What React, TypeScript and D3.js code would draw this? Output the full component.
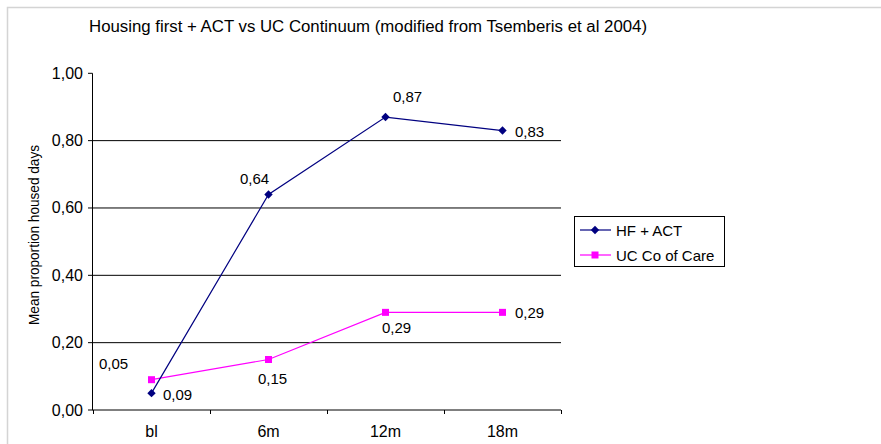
import React from "react";
import * as d3 from "d3";

const categories = ["bl", "6m", "12m", "18m"];
const hfAct = [0.05, 0.64, 0.87, 0.83];
const ucCare = [0.09, 0.15, 0.29, 0.29];
const yTicks = [0, 0.2, 0.4, 0.6, 0.8, 1.0];
const seriesNames = ["HF + ACT", "UC Co of Care"];
const title = "Housing first + ACT vs UC Continuum (modified from Tsemberis et al 2004)";
const yTitle = "Mean proportion housed days";

// label placement offsets (layout only)
const hfLabelOffsets: [number, number][] = [[-38, -24], [-14, -11], [22, -15], [27, 6]];
const ucLabelOffsets: [number, number][] = [[26, 20], [4, 25], [11, 21], [27, 6]];

const fmt = (v: number) => v.toFixed(2).replace(".", ",");
const FONT = "'Liberation Sans', Arial, sans-serif";

export default function App() {
  const W = 881, H = 444;
  const x = d3.scaleBand<string>().domain(categories).range([93, 561]);
  const y = d3.scaleLinear().domain([0, 1]).range([410, 73.3]);
  const cx = (c: string) => (x(c) as number) + x.bandwidth() / 2;
  const line = d3.line<number>().x((_, i) => cx(categories[i])).y((d) => y(d));
  const navy = "#000080";
  const mag = "#FF00FF";

  const diamond = (px: number, py: number, s = 4.2) =>
    `M${px},${py - s}L${px + s},${py}L${px},${py + s}L${px - s},${py}Z`;

  return (
    <svg width={W} height={H} style={{ position: "absolute", left: 0, top: 0, background: "#fff" }} fontFamily={FONT}>
      <rect x={0} y={0} width={W} height={H} fill="#fff" />
      <path d={`M7.5,${H}V7.5H${W}`} fill="none" stroke="#d4d4d4" strokeWidth={1.5} />
      <text x={89} y={31.5} fontSize={16} textLength={558} lengthAdjust="spacingAndGlyphs">{title}</text>

      {/* gridlines */}
      {yTicks.filter((t) => t > 0 && t < 1).map((t) => (
        <line key={t} x1={93} x2={561} y1={y(t)} y2={y(t)} stroke="#000" strokeWidth={1} />
      ))}
      {/* axes */}
      <line x1={92.5} x2={92.5} y1={y(1)} y2={410} stroke="#000" />
      <line x1={92} x2={561} y1={410} y2={410} stroke="#000" />
      {yTicks.map((t) => (
        <g key={"yt" + t}>
          <line x1={88} x2={92.5} y1={y(t)} y2={y(t)} stroke="#000" />
          <text x={83} y={y(t) + 5.5} fontSize={16} textAnchor="end">{fmt(t)}</text>
        </g>
      ))}
      {[...categories.map((c) => x(c) as number), 561].map((v, i) => (
        <line key={"xt" + i} x1={v + 0.5} x2={v + 0.5} y1={410} y2={414} stroke="#000" />
      ))}
      {categories.map((c) => (
        <text key={c} x={cx(c)} y={437} fontSize={16} textAnchor="middle">{c}</text>
      ))}
      <text transform={`translate(39,235) rotate(-90)`} fontSize={14} textAnchor="middle" textLength={180} lengthAdjust="spacingAndGlyphs">{yTitle}</text>

      {/* series */}
      <path d={line(ucCare) || ""} fill="none" stroke={mag} strokeWidth={1.2} />
      <path d={line(hfAct) || ""} fill="none" stroke={navy} strokeWidth={1.2} />
      {ucCare.map((v, i) => (
        <rect key={"us" + i} x={cx(categories[i]) - 3.5} y={y(v) - 3.5} width={7} height={7} fill={mag} />
      ))}
      {hfAct.map((v, i) => (
        <path key={"hd" + i} d={diamond(cx(categories[i]), y(v))} fill={navy} />
      ))}
      {hfAct.map((v, i) => (
        <text key={"hl" + i} x={cx(categories[i]) + hfLabelOffsets[i][0]} y={y(v) + hfLabelOffsets[i][1]} fontSize={15} textAnchor="middle">{fmt(v)}</text>
      ))}
      {ucCare.map((v, i) => (
        <text key={"ul" + i} x={cx(categories[i]) + ucLabelOffsets[i][0]} y={y(v) + ucLabelOffsets[i][1]} fontSize={15} textAnchor="middle">{fmt(v)}</text>
      ))}

      {/* legend */}
      <rect x={574.5} y={216.5} width={150} height={50} fill="#fff" stroke="#000" />
      <line x1={580} x2={611} y1={230} y2={230} stroke={navy} strokeWidth={1.2} />
      <path d={diamond(595, 230)} fill={navy} />
      <text x={616} y={235.5} fontSize={15}>{seriesNames[0]}</text>
      <line x1={580} x2={611} y1={255} y2={255} stroke={mag} strokeWidth={1.2} />
      <rect x={591.5} y={251.5} width={7} height={7} fill={mag} />
      <text x={616} y={260.5} fontSize={15}>{seriesNames[1]}</text>
    </svg>
  );
}
